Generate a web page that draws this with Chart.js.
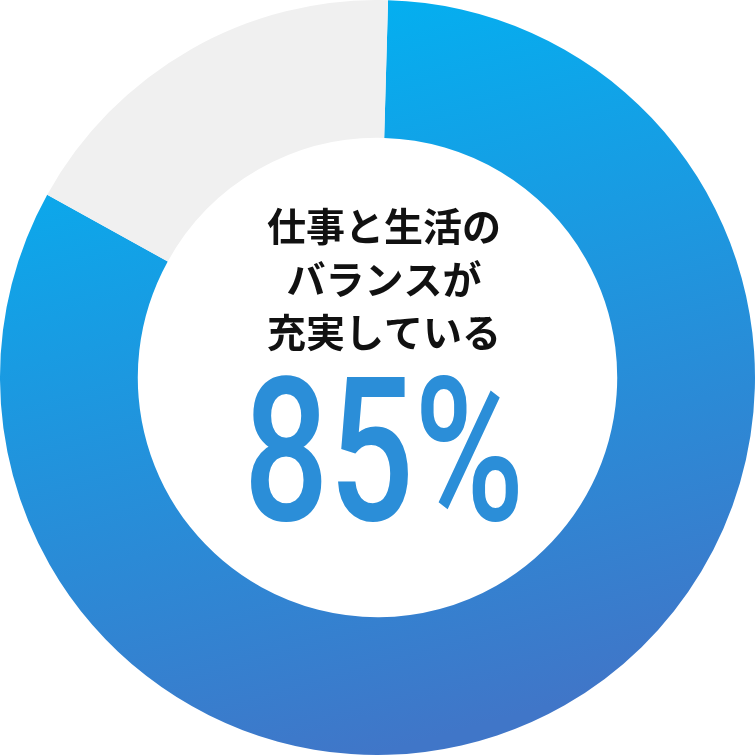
<!DOCTYPE html>
<html>
<head>
<meta charset="utf-8">
<script src="https://cdn.jsdelivr.net/npm/chart.js@4"></script>
<style>
  html, body { margin: 0; padding: 0; background: #ffffff; }
  #wrap { width: 755px; height: 755px; position: relative; }
</style>
</head>
<body>
<div id="wrap"><canvas id="donut"></canvas></div>
<script>
// slices as drawn in the picture (the blue arc is a little short of the printed 85%)
const labels = ['充実している', 'その他']
const shares = [82.6, 17.4]
const captionLines = ['仕事と生活の', 'バランスが', '充実している']
const bigLabel = '85%'

// blue ring gets a diagonal gradient, top-left light to bottom-right dark
function ringFill(context) {
    const chart = context.chart
    const area = chart.chartArea
    if (!area) return '#1b97de'
    if (context.dataIndex === 1) return '#f0f0f0'
    const cx = (area.left + area.right) / 2
    const cy = (area.top + area.bottom) / 2
    const g = chart.ctx.createLinearGradient(cx - 98, cy - 349, cx + 98, cy + 349)
    g.addColorStop(0, '#04aff0')
    g.addColorStop(1, '#4076c8')
    return g
}

const centerText = {
    id: 'centerText',
    afterDraw(chart) {
        const ctx = chart.ctx
        const x = 384
        ctx.save()
        ctx.fillStyle = '#111111'
        ctx.textAlign = 'center'
        ctx.textBaseline = 'middle'
        ctx.font = 'bold 39px "Noto Sans CJK JP"'
        captionLines.forEach((line, i) => {
            ctx.fillText(line, x, 226 + i * 53)
        })
        // the big number uses a narrow face, so squeeze it sideways
        ctx.translate(x, 520)
        ctx.scale(0.75, 1)
        ctx.fillStyle = '#2b8ed8'
        ctx.textBaseline = 'alphabetic'
        ctx.font = '500 200px Roboto'
        ctx.fillText(bigLabel, 0, 0)
        ctx.restore()
    }
}

new Chart(document.getElementById('donut'), {
    type: 'doughnut',
    data: {
        labels: labels,
        datasets: [{
            data: shares,
            backgroundColor: ringFill,
            borderWidth: 0,
            hoverOffset: 0
        }]
    },
    options: {
        responsive: true,
        maintainAspectRatio: false,
        animation: false,
        rotation: 1.6,
        cutout: '63.5%',
        layout: { padding: 0 },
        plugins: {
            legend: { display: false },
            tooltip: { enabled: false }
        }
    },
    plugins: [centerText]
})
</script>
</body>
</html>
